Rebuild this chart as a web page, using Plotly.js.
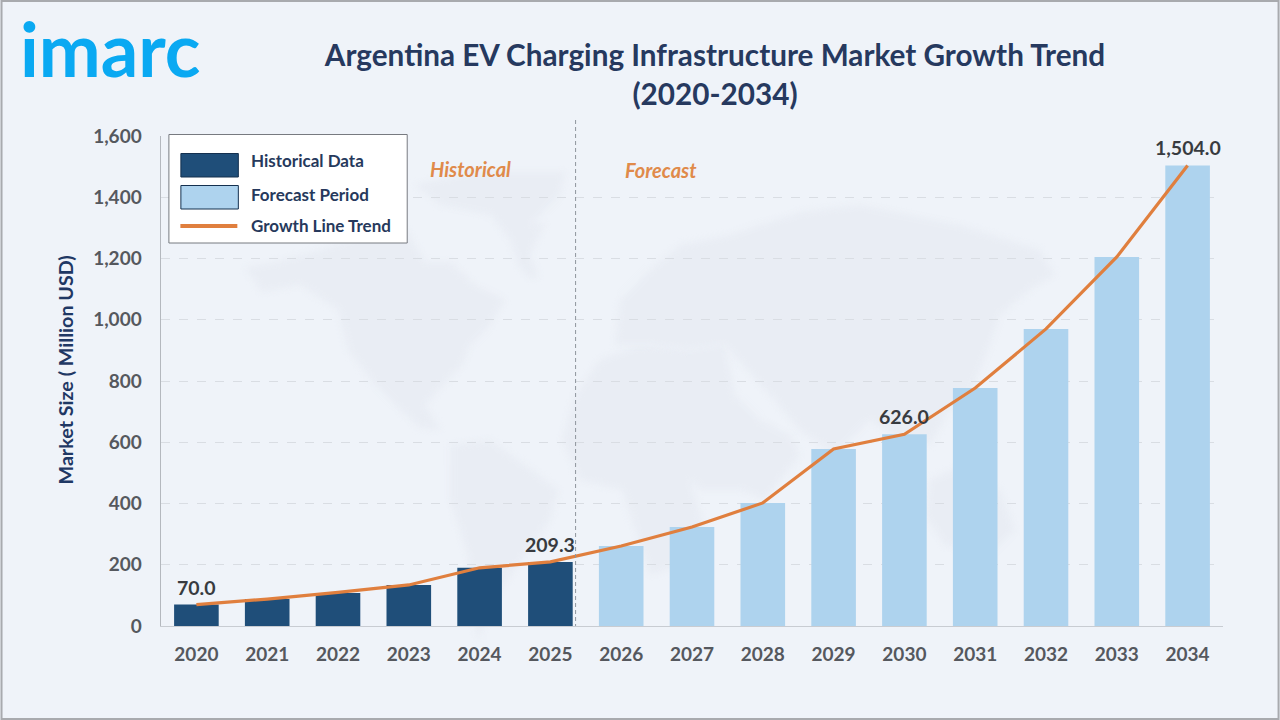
<!DOCTYPE html>
<html><head><meta charset="utf-8">
<script src="https://cdn.plot.ly/plotly-3.0.1.min.js"></script>
<style>html,body{margin:0;padding:0;background:#eff3f9}#c{width:1280px;height:720px}
.layer-below .shapelayer path{filter:blur(3px)}</style>
</head><body><div id="c"></div><script>
const years=['2020','2021','2022','2023','2024','2025','2026','2027','2028','2029','2030','2031','2032','2033','2034'];
const histYears=years.slice(0,6);
const histValues=[70,88,108,134,190,209.3];
const foreYears=years.slice(6);
const foreValues=[261,323,402,578,626,777,970,1205,1504];
const trendValues=[70,88,110,134,190,209.3,261,323,402,578,626,777,970,1205,1504];
const pointLabels=['70.0','','','','','209.3','','','','','626.0','','','','1,504.0'];
const yTicks=[0,200,400,600,800,1000,1200,1400,1600];
const L=160.6,R=1223.4,T=136,B=626;
const W=1280,H=720;
const px=x=>(x-L)/(R-L), py=y=>(B-y)/(B-T);
const poly=(pts)=>'M'+pts.map(p=>px(p[0]).toFixed(4)+','+py(p[1]).toFixed(4)).join('L')+'Z';
const rect=(x0,y0,x1,y1,fill,lc,lw)=>({type:'rect',xref:'paper',yref:'paper',x0:px(x0),x1:px(x1),y0:py(y0),y1:py(y1),fillcolor:fill,line:{color:lc||fill,width:lw===undefined?1:lw},layer:'above'});
const mapColor='#e9edf4';
const land=[
 [[245,268],[275,262],[320,250],[370,232],[405,228],[425,262],[450,262],[475,285],[505,300],[490,325],[470,345],[462,365],[440,388],[425,405],[440,430],[420,428],[395,405],[375,385],[348,350],[338,310],[300,285],[262,292]],
 [[415,185],[470,172],[565,172],[560,195],[530,225],[545,222],[530,255],[538,278],[530,278],[518,265],[510,240],[490,215],[440,205]],
 [[450,445],[490,440],[525,465],[558,490],[550,520],[525,555],[500,590],[478,640],[470,600],[468,555],[450,500]],
 [[575,395],[600,360],[640,345],[690,350],[725,345],[735,395],[760,420],[790,435],[800,455],[765,500],[742,490],[700,490],[690,480],[705,530],[680,565],[650,575],[632,520],[622,490],[580,480],[562,440]],
 [[620,300],[650,270],[680,245],[730,235],[800,212],[860,205],[960,225],[1040,250],[1055,275],[1030,290],[1000,315],[990,345],[970,395],[950,410],[930,445],[900,440],[870,420],[835,455],[800,430],[770,395],[725,345],[690,350],[650,345],[615,345]],
 [[930,480],[965,465],[1000,490],[1015,530],[990,555],[945,545],[925,515]]
];
const shapes=land.map(p=>({type:'path',xref:'paper',yref:'paper',path:poly(p),fillcolor:mapColor,line:{width:0},layer:'below'}));
shapes.push(rect(1,1,1279,719,'rgba(0,0,0,0)','#a8aaae',2));
shapes.push({type:'line',xref:'paper',yref:'paper',x0:px(575.5),x1:px(575.5),y0:py(120),y1:py(626),line:{color:'#8f959d',width:1,dash:'4px,3px'},layer:'above'});
shapes.push(rect(168.5,134.5,407,243,'#ffffff','#777a80',1));
shapes.push(rect(180.5,153.5,238,177,'#1f4e79','#14304f',1));
shapes.push(rect(180.5,185.5,238,209,'#aed3ee','#14304f',1));
shapes.push({type:'line',xref:'paper',yref:'paper',x0:px(180),x1:px(237),y0:py(226),y1:py(226),line:{color:'#e07f3e',width:4},layer:'above'});
const note=(x,y,text,font,extra)=>Object.assign({xref:'paper',yref:'paper',x:px(x),y:py(y),text,showarrow:false,font,xanchor:'center',yanchor:'middle'},extra||{});
const F='Lato, sans-serif';
const legFont={family:F,size:17,color:'#26395c',weight:700};
const annotations=[
 note(110,48,'<b>imarc</b>',{family:F,size:74,color:'#0aa9f2'}),
 note(249,161,'Historical Data',legFont,{xanchor:'left'}),
 note(249,194,'Forecast Period',legFont,{xanchor:'left'}),
 note(249,225,'Growth Line Trend',legFont,{xanchor:'left'}),
 note(470,169,'<b><i>Historical</i></b>',{family:F,size:20,color:'#e08a4a'}),
 note(661,170,'<b><i>Forecast</i></b>',{family:F,size:20,color:'#e08a4a'}),
 note(65,370,'<b>Market Size ( Million USD)</b>',{family:F,size:19.7,color:'#1f3864'},{textangle:-90})
];
pointLabels.forEach((t,i)=>{ if(t) annotations.push({xref:'x',yref:'y',x:i,y:trendValues[i],text:t,showarrow:false,xanchor:'center',yanchor:'bottom',yshift:4,font:{family:F,size:19.5,color:'#383b40',weight:700}}); });
const traces=[
 {type:'bar',x:histYears,y:histValues,width:0.63,marker:{color:'#1f4e79',line:{width:0}},name:'Historical Data',showlegend:false,hoverinfo:'skip'},
 {type:'bar',x:foreYears,y:foreValues,width:0.63,marker:{color:'#aed3ee',line:{width:0}},name:'Forecast Period',showlegend:false,hoverinfo:'skip'},
 {type:'scatter',mode:'lines',x:years,y:trendValues,cliponaxis:false,line:{color:'#e07f3e',width:3.2},name:'Growth Line Trend',showlegend:false,hoverinfo:'skip'}
];
const layout={width:W,height:H,paper_bgcolor:'#eff3f9',plot_bgcolor:'rgba(0,0,0,0)',
 margin:{l:L,r:W-R,t:T,b:H-B,pad:0},showlegend:false,barmode:'overlay',
 title:{text:'<b>Argentina EV Charging Infrastructure Market Growth Trend<br>(2020-2034)</b>',x:715/W,xanchor:'center',y:1-66/H,yanchor:'middle',font:{family:F,size:29.7,color:'#26395f'}},
 xaxis:{type:'category',categoryorder:'array',categoryarray:years,range:[-0.5,14.5],showgrid:false,showline:true,linecolor:'#c8ccd2',linewidth:1,ticks:'',ticklabelstandoff:11,tickfont:{family:F,size:19,color:'#55585e',weight:700},zeroline:false},
 yaxis:{range:[0,1600],tickvals:yTicks,ticktext:yTicks.map(v=>v.toLocaleString('en-US')),showgrid:true,gridcolor:'#d9dde3',griddash:'dash',gridwidth:1,showline:true,linecolor:'#b4b8be',linewidth:1.5,ticks:'',ticklabelstandoff:14,tickfont:{family:F,size:19,color:'#55585e',weight:700},zeroline:false},
 shapes,annotations};
Plotly.newPlot('c',traces,layout,{displayModeBar:false,staticPlot:true});
</script></body></html>
